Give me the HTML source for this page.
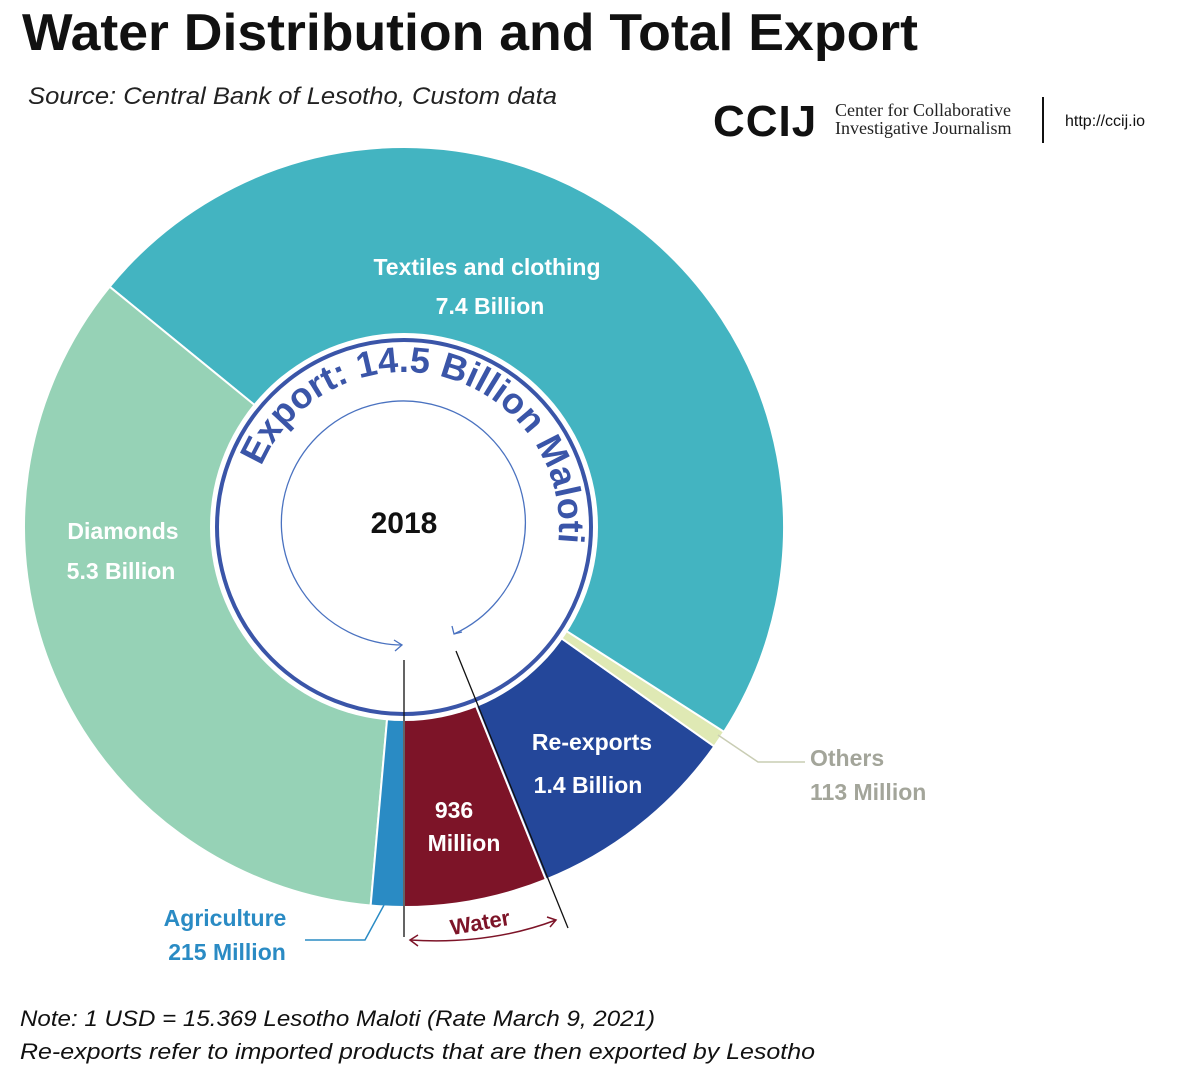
<!DOCTYPE html>
<html><head><meta charset="utf-8"><style>
body{margin:0;background:#fff;}
svg{display:block;font-family:"Liberation Sans",sans-serif;}
</style></head><body>
<svg width="1200" height="1078" viewBox="0 0 1200 1078">
<text x="22" y="50" font-size="52" font-weight="bold" fill="#111" textLength="896" lengthAdjust="spacingAndGlyphs">Water Distribution and Total Export</text>
<text x="28" y="104" font-size="24" font-style="italic" fill="#222" textLength="529" lengthAdjust="spacingAndGlyphs">Source: Central Bank of Lesotho, Custom data</text>
<g>
<text x="713" y="136" font-size="44" font-weight="bold" fill="#111" letter-spacing="1">CCIJ</text>
<text x="835" y="116" font-size="18" font-family="Liberation Serif,serif" fill="#222">Center for Collaborative</text>
<text x="835" y="134" font-size="18" font-family="Liberation Serif,serif" fill="#222">Investigative Journalism</text>
<line x1="1043" y1="97" x2="1043" y2="143" stroke="#111" stroke-width="2"/>
<text x="1065" y="126" font-size="16" fill="#111">http://ccij.io</text>
</g>
<g id="slices"></g>
<circle cx="404" cy="527" r="194" fill="#fff"/>
<circle cx="404" cy="527" r="187" fill="none" stroke="#3a55a8" stroke-width="4"/>
<path id="txtArc" d="M 404 682 A 155 155 0 1 1 404 372 A 155 155 0 1 1 404 682" fill="none"/>
<text font-size="36" font-weight="bold" fill="#3a55a8"><textPath href="#txtArc" startOffset="54%" text-anchor="middle">Export: 14.5 Billion Maloti</textPath></text>
<path d="M 402 645 A 122 122 0 1 1 454 634" fill="none" stroke="#4a72c0" stroke-width="1.3"/>
<path d="M 394 640 L 402 645 L 395 651" fill="none" stroke="#4a72c0" stroke-width="1.3"/>
<path d="M 452 626 L 454 634 L 462 632" fill="none" stroke="#4a72c0" stroke-width="1.3"/>
<text x="404" y="533" font-size="30" font-weight="bold" text-anchor="middle" fill="#111">2018</text>
<g font-size="23" font-weight="bold" text-anchor="middle" fill="#fff">
<text x="487" y="275">Textiles and clothing</text>
<text x="490" y="314">7.4 Billion</text>
<text x="123" y="539">Diamonds</text>
<text x="121" y="579">5.3 Billion</text>
<text x="592" y="750">Re-exports</text>
<text x="588" y="793">1.4 Billion</text>
<text x="454" y="818">936</text>
<text x="464" y="851">Million</text>
<text x="810" y="766" text-anchor="start" fill="#a3a59a">Others</text>
<text x="810" y="800" text-anchor="start" fill="#a3a59a">113 Million</text>
<text x="225" y="926" fill="#2a8bc4">Agriculture</text>
<text x="227" y="960" fill="#2a8bc4">215 Million</text>
</g>
<polyline points="718,735 758,762 805,762" fill="none" stroke="#c9cdb4" stroke-width="1.5"/>
<polyline points="384,905 365,940 305,940" fill="none" stroke="#2a8bc4" stroke-width="1.5"/>
<line x1="404" y1="660" x2="404" y2="937" stroke="#111" stroke-width="1.3"/>
<line x1="456" y1="651" x2="568" y2="928" stroke="#111" stroke-width="1.3"/>
<path d="M 410 940 Q 490 945 556 920" fill="none" stroke="#7d1428" stroke-width="1.5"/>
<path d="M 418 935 L 410 940 L 418 946 M 547 917 L 556 920 L 550 927" fill="none" stroke="#7d1428" stroke-width="1.5"/>
<text x="480" y="930" font-size="22" font-weight="bold" fill="#7d1428" text-anchor="middle" transform="rotate(-10 480 922)">Water</text>
<text x="20" y="1026" font-size="22" font-style="italic" fill="#111" textLength="635" lengthAdjust="spacingAndGlyphs">Note:  1 USD = 15.369 Lesotho Maloti  (Rate March 9, 2021)</text>
<text x="20" y="1059" font-size="22" font-style="italic" fill="#111" textLength="795" lengthAdjust="spacingAndGlyphs">Re-exports refer to imported products that are then exported by Lesotho</text>
</svg>
<script>
const categories=["Water","Re-exports","Others","Textiles and clothing","Diamonds","Agriculture"];
const values=[0.936,1.4,0.113,7.4,5.3,0.215];
const colors=["#7d1428","#24479a","#dfe9b4","#43b4c1","#96d2b6","#2a8bc4"];
const cx=404,cy=527,R=380,r0=190;
const total=values.reduce((a,b)=>a+b,0);
function pt(rad,deg){const t=deg*Math.PI/180;return [cx+rad*Math.sin(t),cy+rad*Math.cos(t)];}
const g=document.getElementById('slices');
let a=0;
values.forEach((v,i)=>{
  const b=a+v/total*360;
  const p1=pt(R,a),p2=pt(R,b),p3=pt(r0,b),p4=pt(r0,a);
  const lg=(b-a)>180?1:0;
  const path=document.createElementNS('http://www.w3.org/2000/svg','path');
  path.setAttribute('d',`M${p1[0]},${p1[1]} A${R},${R} 0 ${lg} 0 ${p2[0]},${p2[1]} L${p3[0]},${p3[1]} A${r0},${r0} 0 ${lg} 1 ${p4[0]},${p4[1]} Z`);
  path.setAttribute('fill',colors[i]);
  path.setAttribute('stroke','#fff');
  path.setAttribute('stroke-width','2');
  
  
  g.appendChild(path);
  a=b;
});
</script>
</body></html>
